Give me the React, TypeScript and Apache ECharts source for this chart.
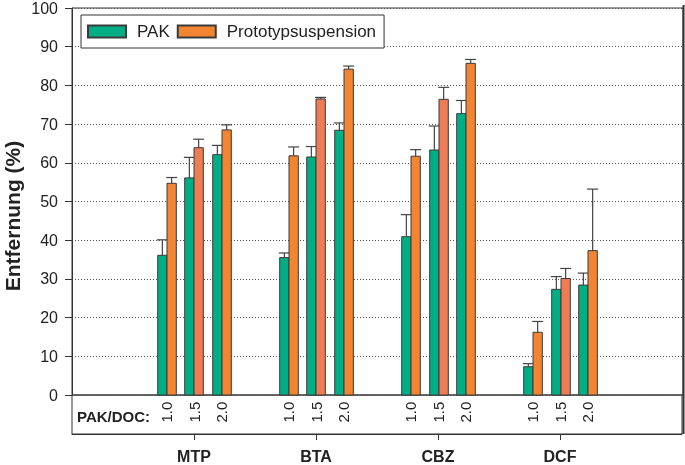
import React, { useEffect, useRef } from "react";
import * as echarts from "echarts";

const categories = ["MTP", "BTA", "CBZ", "DCF"];
const ratios = ["1.0", "1.5", "2.0"];
const pakValues = [
  [36.1, 56.1, 62.1],
  [35.5, 61.5, 68.4],
  [40.9, 63.3, 72.7],
  [7.3, 27.3, 28.4],
];
const pakErrors = [
  [4.0, 5.3, 2.4],
  [1.2, 2.7, 1.9],
  [5.7, 6.2, 3.4],
  [0.8, 3.3, 3.1],
];
const protoValues = [
  [54.7, 63.9, 68.5],
  [61.8, 76.5, 84.2],
  [61.7, 76.4, 85.7],
  [16.2, 30.1, 37.3],
];
const protoErrors = [
  [1.5, 2.2, 1.3],
  [2.3, 0.4, 0.8],
  [1.7, 3.1, 1.0],
  [2.8, 2.6, 15.9],
];
const yTicks = [0, 10, 20, 30, 40, 50, 60, 70, 80, 90, 100];

const FONT = "'Liberation Sans', Arial, Helvetica, sans-serif";
const GREEN = "#00AE86";
const ORANGE = "#F28432";
const SALMON = "#EE7D55";
const EDGE = "#3a3a3a";
const SUB_OFFSET = 0.2247;
const BAR_W = 9.3;

function buildData(values: number[][], errors: number[][]) {
  const out: number[][] = [];
  values.forEach((row, i) => {
    row.forEach((v, j) => {
      out.push([i + 1 + (j - 1) * SUB_OFFSET, v, j, errors[i][j]]);
    });
  });
  return out;
}

function makeRender(side: number, baseColor: string, midColor: string) {
  return (params: any, api: any) => {
    const x = api.value(0);
    const v = api.value(1);
    const j = api.value(2);
    const e = api.value(3);
    const p0 = api.coord([x, 0]);
    const p1 = api.coord([x, v]);
    const pe = api.coord([x, v + e]);
    const cx = Math.round(p0[0]);
    const left = side < 0 ? cx - BAR_W : cx;
    const mid = left + BAR_W / 2;
    return {
      type: "group",
      children: [
        {
          type: "line",
          shape: { x1: mid, y1: p1[1], x2: mid, y2: pe[1] },
          style: { stroke: "#444", lineWidth: 1.2 },
        },
        {
          type: "line",
          shape: { x1: mid - 5.5, y1: pe[1], x2: mid + 5.5, y2: pe[1] },
          style: { stroke: "#444", lineWidth: 1.2 },
        },
        {
          type: "rect",
          shape: { x: left, y: p1[1], width: BAR_W, height: p0[1] - p1[1] },
          style: { fill: j === 1 ? midColor : baseColor, stroke: EDGE, lineWidth: 1 },
        },
      ],
    };
  };
}

export default function App() {
  const ref = useRef<HTMLDivElement>(null);
  useEffect(() => {
    if (!ref.current) return;
    const chart = echarts.init(ref.current, null, { renderer: "svg" });
    const ratioData: any[] = [];
    categories.forEach((_, i) => {
      ratios.forEach((r, j) => {
        ratioData.push([i + 1 + (j - 1) * SUB_OFFSET, 0.56, r]);
      });
    });
    chart.setOption({
      animation: false,
      textStyle: { fontFamily: FONT, color: "#222" },
      grid: [
        { left: 72, top: 5, width: 611, height: 390, show: true, borderColor: "#333", borderWidth: 1 },
        { left: 72, top: 395, width: 611, height: 39, show: true, borderColor: "#333", borderWidth: 1 },
      ],
      xAxis: [
        { type: "value", gridIndex: 0, min: 0, max: 5, show: false },
        {
          type: "value",
          gridIndex: 1,
          min: 0,
          max: 5,
          interval: 1,
          axisLine: { show: true, lineStyle: { color: "#333" } },
          axisTick: { show: false },
          splitLine: { show: false },
          axisLabel: {
            margin: 14,
            fontSize: 16,
            fontWeight: "bold",
            color: "#222",
            fontFamily: FONT,
            formatter: (v: number) => categories[v - 1] ?? "",
          },
        },
      ],
      yAxis: [
        {
          type: "value",
          gridIndex: 0,
          min: 0,
          max: 100,
          interval: 10,
          axisLine: { show: true, lineStyle: { color: "#333" } },
          axisTick: { show: true, length: 7, lineStyle: { color: "#333" } },
          axisLabel: {
            margin: 14,
            fontSize: 16,
            color: "#222",
            fontFamily: FONT,
            formatter: (v: number) => (yTicks.includes(v) ? String(v) : ""),
          },
          splitLine: { show: true, lineStyle: { color: "#555", type: [1, 2], width: 1 } },
        },
        { type: "value", gridIndex: 1, min: 0, max: 1, show: false },
      ],
      legend: {
        left: 81,
        top: 15,
        orient: "horizontal",
        backgroundColor: "#fff",
        borderColor: "#333",
        borderWidth: 1,
        padding: [7, 8, 7, 6],
        itemWidth: 38,
        itemHeight: 12,
        itemGap: 7,
        icon: "rect",
        textStyle: { fontSize: 17, fontFamily: FONT, color: "#222", padding: [0, 0, 0, 6], lineHeight: 19 },
        data: ["PAK", "Prototypsuspension"],
      },
      graphic: [
        {
          type: "text",
          x: 12,
          y: 216,
          rotation: Math.PI / 2,
          style: {
            text: "Entfernung (%)",
            font: `bold 21px ${FONT}`,
            fill: "#222",
            align: "center",
            verticalAlign: "middle",
          },
        },
        {
          type: "text",
          x: 77,
          y: 416,
          style: {
            text: "PAK/DOC:",
            font: `bold 15px ${FONT}`,
            fill: "#222",
            align: "left",
            verticalAlign: "middle",
          },
        },
        {
          type: "line",
          shape: { x1: 683.5, y1: 5, x2: 683.5, y2: 434 },
          style: { stroke: "#333", lineWidth: 2 },
        },
      ],
      series: [
        {
          name: "PAK",
          type: "custom",
          xAxisIndex: 0,
          yAxisIndex: 0,
          itemStyle: { color: GREEN, borderColor: EDGE, borderWidth: 1 },
          renderItem: makeRender(-1, GREEN, GREEN),
          data: buildData(pakValues, pakErrors),
          z: 3,
        },
        {
          name: "Prototypsuspension",
          type: "custom",
          xAxisIndex: 0,
          yAxisIndex: 0,
          itemStyle: { color: ORANGE, borderColor: EDGE, borderWidth: 1 },
          renderItem: makeRender(1, ORANGE, SALMON),
          data: buildData(protoValues, protoErrors),
          z: 3,
        },
        {
          name: "ratios",
          type: "custom",
          xAxisIndex: 1,
          yAxisIndex: 1,
          silent: true,
          renderItem: (params: any, api: any) => {
            const p = api.coord([api.value(0), api.value(1)]);
            return {
              type: "text",
              x: p[0],
              y: p[1],
              rotation: Math.PI / 2,
              style: {
                text: ratioData[params.dataIndex][2],
                font: `15px ${FONT}`,
                fill: "#222",
                align: "center",
                verticalAlign: "middle",
              },
            };
          },
          data: ratioData.map((d) => [d[0], d[1]]),
        },
        {
          name: "categoryTicks",
          type: "custom",
          xAxisIndex: 1,
          yAxisIndex: 1,
          silent: true,
          clip: false,
          renderItem: (params: any, api: any) => {
            const p = api.coord([api.value(0), 0]);
            const x = Math.round(p[0]) + 0.5;
            return {
              type: "line",
              shape: { x1: x, y1: p[1], x2: x, y2: p[1] + 6 },
              style: { stroke: "#333", lineWidth: 1 },
            };
          },
          data: categories.map((_, i) => [i + 1]),
        },
      ],
    });
    return () => chart.dispose();
  }, []);
  return (
    <div
      ref={ref}
      style={{ position: "fixed", left: 0, top: 0, width: 685, height: 465 }}
    />
  );
}
